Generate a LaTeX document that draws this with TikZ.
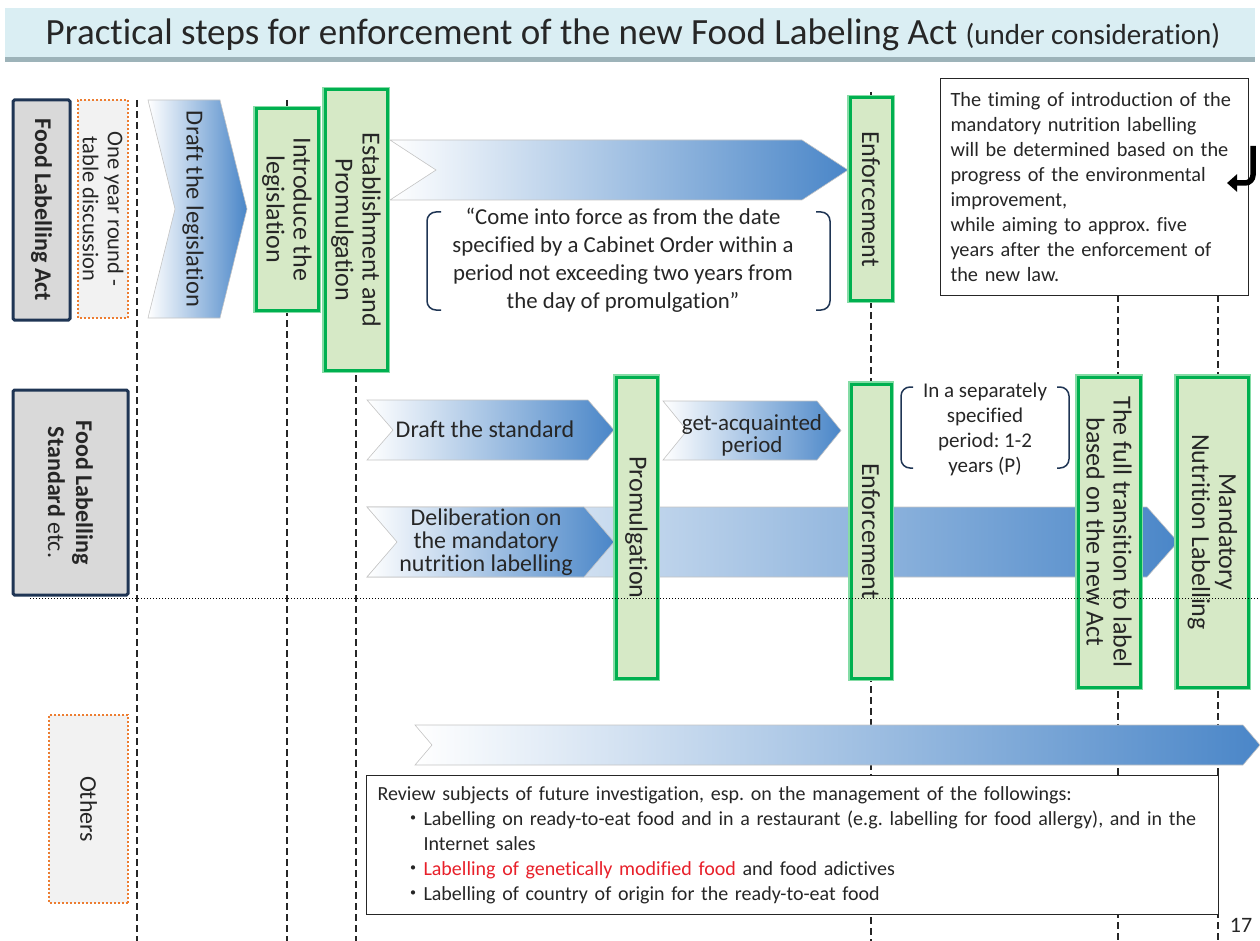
\documentclass[tikz,border=0pt]{standalone}
\usepackage{fontspec}
\setmainfont{Carlito}[RawFeature={-liga;-clig;-calt;-dlig}]
\newfontfamily\cjk{Noto Sans CJK JP}
\usetikzlibrary{arrows.meta}
\frenchspacing

\definecolor{ink}{HTML}{262626}
\definecolor{navy}{HTML}{1F3554}
\definecolor{labelgray}{HTML}{D9D9D9}
\definecolor{notegray}{HTML}{F2F2F2}
\definecolor{noteorange}{HTML}{ED7D31}
\definecolor{boxgreen}{HTML}{00B050}
\definecolor{boxhalo}{HTML}{86DCA6}
\definecolor{boxfill}{HTML}{D6E9C6}
\definecolor{arrowblue}{HTML}{4A86C8}
\definecolor{arrowline}{HTML}{C4C4C4}
\definecolor{titlefill}{HTML}{DAEEF3}
\definecolor{titleshadow}{HTML}{9DB3B9}
\definecolor{alertred}{HTML}{E8202A}

\tikzset{
  stage/.style={draw=boxgreen, line width=3pt, fill=boxfill,
    preaction={draw=boxhalo, line width=6.5pt}, rotate=-90, align=center,
    inner sep=0pt, text=ink, font=\fontsize{26}{27}\selectfont},
  lawlabel/.style={draw=navy, line width=3pt, fill=labelgray, rounded corners=1.5pt,
    rotate=-90, align=center, inner sep=0pt, text=ink, font=\fontsize{24}{28}\selectfont},
  sidenote/.style={draw=noteorange, dotted, line width=2pt, fill=notegray, rotate=-90,
    align=center, inner sep=0pt, text=ink, font=\fontsize{22.5}{25}\selectfont},
  flow/.style={left color=white, right color=arrowblue, draw=arrowline, line width=0.6pt},
  flowtext/.style={align=center, text=ink, inner sep=0pt, font=\fontsize{24}{23}\selectfont},
  timeline/.style={draw=ink, line width=2.2pt, dash pattern=on 7pt off 4pt},
  bracket/.style={draw=navy, line width=1.5pt, rounded corners=9pt},
  notebox/.style={draw=black!85, line width=1pt, fill=white, anchor=north west,
    align=left, text=ink},
}

% chevron: x1, y1, x2, y2, depth
\newcommand{\flowarrow}[5]{%
  \shadedraw[flow] (#1,#2) -- ({#3-#5},#2) -- (#3,{(#2+#4)/2}) -- ({#3-#5},#4)
    -- (#1,#4) -- ({#1+#5},{(#2+#4)/2}) -- cycle;}

\begin{document}
\begin{tikzpicture}[x=1pt,y=-1pt]
  \useasboundingbox (0,0) rectangle (1260,941);

  % title bar
  \fill[titleshadow] (5,12) rectangle (1255,62);
  \fill[titlefill] (5,8) rectangle (1255,57);
  \node[text=ink, font=\fontsize{37}{38}\selectfont] (title) at (633,35)
    {Practical steps for enforcement of the new Food Labeling Act {\fontsize{29}{30}\selectfont(under consideration)}};

  % time lines
  \draw[timeline] (137,100) -- (137,941);
  \draw[timeline] (287,100) -- (287,941);
  \draw[timeline] (356,100) -- (356,941);
  \draw[timeline] (871,92) -- (871,941);
  \draw[timeline] (1118,295) -- (1118,941);
  \draw[timeline] (1218,295) -- (1218,941);

  % Food Labelling Act
  \node[lawlabel, minimum width=220pt, minimum height=57pt] (actlabel) at (41.5,210) {\textbf{Food Labelling Act}};
  \node[sidenote, minimum width=218pt, minimum height=50pt] (roundtable) at (103,209) {One year round -\\table discussion};
  \flowarrow{148}{100}{247}{318}{27}
  \node[flowtext, rotate=-90, font=\fontsize{24.5}{26}\selectfont] (draftlaw) at (193,209) {Draft the legislation};
  \node[stage, minimum width=201pt, minimum height=62pt] (introduce) at (287,209.5) {Introduce the\\legislation};
  \node[stage, minimum width=280pt, minimum height=62pt] (establish) at (356,230) {Establishment and\\Promulgation};
  \flowarrow{390}{140}{848}{200}{46}
  \node[flowtext, font=\fontsize{22.8}{28}\selectfont] (intoforce) at (623,260)
    {“Come into force as from the date\\specified by a Cabinet Order within a\\period not exceeding two years from\\the day of promulgation”};
  \draw[bracket] (441,212) -- (427,212) -- (427,310) -- (441,310);
  \draw[bracket] (816,212) -- (830,212) -- (830,310) -- (816,310);
  \node[stage, minimum width=202pt, minimum height=42pt] (enforceact) at (871,199) {Enforcement};
  \node[notebox, minimum width=308pt, minimum height=217pt, text width=288pt, inner xsep=10pt,
    font=\fontsize{20.3}{25}\selectfont] (timing) at (940,78)
    {The timing of introduction of the\\mandatory nutrition labelling\\will be determined based on the\\progress of the environmental\\improvement,\\while aiming to approx. five\\years after the enforcement of\\the new law.};
  \coordinate (hooktop) at (1253,146);
  \coordinate (hookend) at (1227,183);
  \draw[line width=5.5pt, rounded corners=8pt, -{Triangle[length=10pt,width=17pt]}]
    (hooktop) -- (hooktop |- hookend) -- (hookend);

  % Food Labelling Standard
  \node[lawlabel, minimum width=205pt, minimum height=115pt] (stdlabel) at (70.5,492.5)
    {\textbf{Food Labelling}\\\textbf{Standard} etc.};
  \flowarrow{367}{507}{1178}{577}{31}
  \flowarrow{367}{507}{614}{577}{30}
  \node[flowtext] (deliberation) at (486,542) {Deliberation on\\the mandatory\\nutrition labelling};
  \flowarrow{367}{400}{614}{460}{26}
  \node[flowtext] (draftstd) at (485,429) {Draft the standard};
  \flowarrow{663}{401}{841}{460}{24}
  \node[flowtext, font=\fontsize{23}{22}\selectfont] (acquaint) at (752,435) {get-acquainted\\period};
  \node[stage, minimum width=301pt, minimum height=41pt] (promul) at (636.5,527.5) {Promulgation};
  \node[stage, minimum width=294pt, minimum height=40pt] (enforcestd) at (871,531) {Enforcement};
  \node[flowtext, font=\fontsize{21}{25}\selectfont] (separate) at (985,429)
    {In a separately\\specified\\period: 1-2\\years (P)};
  \draw[bracket] (913,387) -- (901,387) -- (901,468) -- (913,468);
  \draw[bracket] (1057,387) -- (1069,387) -- (1069,468) -- (1057,468);
  \node[stage, minimum width=310pt, minimum height=62pt] (transition) at (1109,532)
    {The full transition to label\\based on the new Act};
  \node[stage, minimum width=310pt, minimum height=71pt] (mandatory) at (1212.5,532)
    {Mandatory\\Nutrition Labelling};
  \draw[dotted, line width=1pt] (30,598) -- (1260,598);

  % Others
  \node[sidenote, minimum width=188pt, minimum height=79pt, font=\fontsize{24}{25}\selectfont] (others) at (88.5,809) {Others};
  \flowarrow{415}{725}{1260}{765}{17}
  \node[notebox, minimum width=852pt, minimum height=139pt, text width=830pt, inner xsep=11pt,
    font=\fontsize{20}{25}\selectfont] (review) at (366,775)
    {Review subjects of future investigation, esp. on the management of the followings:\\
     \hspace*{26pt}{\cjk ・}Labelling on ready-to-eat food and in a restaurant (e.g. labelling for food allergy), and in the\\
     \hspace*{46pt}Internet sales\\
     \hspace*{26pt}{\cjk ・}\textcolor{alertred}{Labelling of genetically modified food} and food adictives\\
     \hspace*{26pt}{\cjk ・}Labelling of country of origin for the ready-to-eat food};
  \node[text=ink, font=\fontsize{22}{23}\selectfont] (pagenum) at (1241,925) {17};
\end{tikzpicture}
\end{document}
